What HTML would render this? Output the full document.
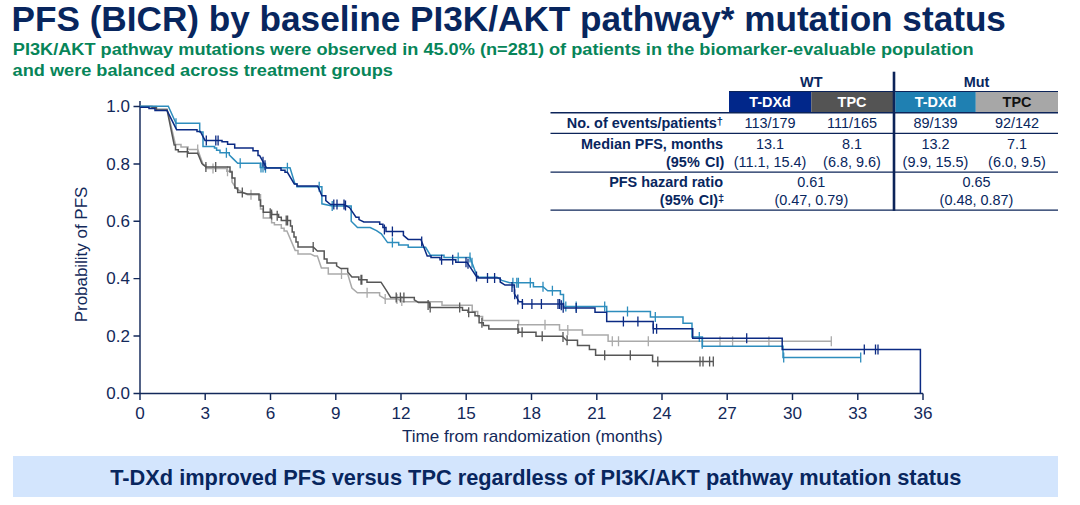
<!DOCTYPE html>
<html><head><meta charset="utf-8">
<style>
html,body{margin:0;padding:0;background:#fff;}
body{width:1080px;height:505px;overflow:hidden;position:relative;font-family:"Liberation Sans",sans-serif;}
svg{position:absolute;left:0;top:0;}
</style></head>
<body>
<svg width="1080" height="505" viewBox="0 0 1080 505" font-family="Liberation Sans, sans-serif">

<text transform="translate(11.5,31.2) scale(0.988,1)" font-size="35.6" fill="#08265e" font-weight="bold">PFS (BICR) by baseline PI3K/AKT pathway* mutation status</text>
<text transform="translate(12.8,54.7) scale(1.069,1)" font-size="17" fill="#078559" font-weight="bold">PI3K/AKT pathway mutations were observed in 45.0% (n=281) of patients in the biomarker-evaluable population</text>
<text transform="translate(12.6,76.3) scale(1.069,1)" font-size="17" fill="#078559" font-weight="bold">and were balanced across treatment groups</text>
<rect x="729" y="91.3" width="82.3" height="21.5" fill="#01278a"/>
<rect x="811.3" y="91.3" width="82" height="21.5" fill="#545454"/>
<rect x="895.3" y="91.3" width="80.5" height="21.5" fill="#1f80b2"/>
<rect x="975.8" y="91.3" width="82.2" height="21.5" fill="#a7a7a7"/>
<line x1="729" y1="91.5" x2="1058" y2="91.5" stroke="#0c2459" stroke-width="1"/>
<line x1="550.5" y1="112.8" x2="1058" y2="112.8" stroke="#0c2459" stroke-width="1.6"/>
<line x1="550.5" y1="133.3" x2="1058" y2="133.3" stroke="#0c2459" stroke-width="1.3"/>
<line x1="550.5" y1="172.2" x2="1058" y2="172.2" stroke="#0c2459" stroke-width="1.3"/>
<line x1="550.5" y1="210.2" x2="1058" y2="210.2" stroke="#0c2459" stroke-width="1.3"/>
<line x1="894" y1="71.7" x2="894" y2="210.8" stroke="#0c2459" stroke-width="2.6"/>

<text transform="translate(811.3,86.7) scale(1.01,1)" font-size="14.3" fill="#08265e" font-weight="bold" text-anchor="middle">WT</text>
<text transform="translate(976.5,86.7) scale(1.01,1)" font-size="14.3" fill="#08265e" font-weight="bold" text-anchor="middle">Mut</text>
<text transform="translate(770,106.7) scale(1.01,1)" font-size="14.3" fill="#fff" font-weight="bold" text-anchor="middle">T-DXd</text>
<text transform="translate(852,106.7) scale(1.01,1)" font-size="14.3" fill="#fff" font-weight="bold" text-anchor="middle">TPC</text>
<text transform="translate(935.5,106.7) scale(1.01,1)" font-size="14.3" fill="#fff" font-weight="bold" text-anchor="middle">T-DXd</text>
<text transform="translate(1017,106.7) scale(1.01,1)" font-size="14.3" fill="#111" font-weight="bold" text-anchor="middle">TPC</text>
<text transform="translate(723,128) scale(1.01,1)" font-size="14.3" fill="#08265e" font-weight="bold" text-anchor="end">No. of events/patients<tspan font-size="11" dy="-3">†</tspan></text>
<text transform="translate(723,148.7) scale(1.01,1)" font-size="14.3" fill="#08265e" font-weight="bold" text-anchor="end">Median PFS, months</text>
<text transform="translate(724.3,166.5) scale(1.01,1)" font-size="14.3" fill="#08265e" font-weight="bold" text-anchor="end">(95%<tspan dx="1.3"> CI)</tspan></text>
<text transform="translate(723,187) scale(1.01,1)" font-size="14.3" fill="#08265e" font-weight="bold" text-anchor="end">PFS hazard ratio</text>
<text transform="translate(724.3,204.9) scale(1.01,1)" font-size="14.3" fill="#08265e" font-weight="bold" text-anchor="end">(95%<tspan dx="1.3"> CI)</tspan><tspan font-size="11" dy="-3">‡</tspan></text>
<text transform="translate(770,128) scale(1.01,1)" font-size="14.3" fill="#08265e" text-anchor="middle">113/179</text>
<text transform="translate(852,128) scale(1.01,1)" font-size="14.3" fill="#08265e" text-anchor="middle">111/165</text>
<text transform="translate(935.5,128) scale(1.01,1)" font-size="14.3" fill="#08265e" text-anchor="middle">89/139</text>
<text transform="translate(1017,128) scale(1.01,1)" font-size="14.3" fill="#08265e" text-anchor="middle">92/142</text>
<text transform="translate(770,148.7) scale(1.01,1)" font-size="14.3" fill="#08265e" text-anchor="middle">13.1</text>
<text transform="translate(852,148.7) scale(1.01,1)" font-size="14.3" fill="#08265e" text-anchor="middle">8.1</text>
<text transform="translate(935.5,148.7) scale(1.01,1)" font-size="14.3" fill="#08265e" text-anchor="middle">13.2</text>
<text transform="translate(1017,148.7) scale(1.01,1)" font-size="14.3" fill="#08265e" text-anchor="middle">7.1</text>
<text transform="translate(770,166.5) scale(1.01,1)" font-size="14.3" fill="#08265e" text-anchor="middle">(11.1, 15.4)</text>
<text transform="translate(852,166.5) scale(1.01,1)" font-size="14.3" fill="#08265e" text-anchor="middle">(6.8, 9.6)</text>
<text transform="translate(935.5,166.5) scale(1.01,1)" font-size="14.3" fill="#08265e" text-anchor="middle">(9.9, 15.5)</text>
<text transform="translate(1017,166.5) scale(1.01,1)" font-size="14.3" fill="#08265e" text-anchor="middle">(6.0, 9.5)</text>
<text transform="translate(811.3,187) scale(1.01,1)" font-size="14.3" fill="#08265e" text-anchor="middle">0.61</text>
<text transform="translate(976.5,187) scale(1.01,1)" font-size="14.3" fill="#08265e" text-anchor="middle">0.65</text>
<text transform="translate(811.3,204.9) scale(1.01,1)" font-size="14.3" fill="#08265e" text-anchor="middle">(0.47, 0.79)</text>
<text transform="translate(976.5,204.9) scale(1.01,1)" font-size="14.3" fill="#08265e" text-anchor="middle">(0.48, 0.87)</text>
<path d="M140,101 V394.2 M139.2,393.4 H923 M140.0,393.4 V399.9 M205.2,393.4 V399.9 M270.5,393.4 V399.9 M335.8,393.4 V399.9 M401.0,393.4 V399.9 M466.2,393.4 V399.9 M531.5,393.4 V399.9 M596.8,393.4 V399.9 M662.0,393.4 V399.9 M727.2,393.4 V399.9 M792.5,393.4 V399.9 M857.8,393.4 V399.9 M923.0,393.4 V399.9 M133.5,393.4 H140 M133.5,336.0 H140 M133.5,278.6 H140 M133.5,221.3 H140 M133.5,163.9 H140 M133.5,106.5 H140" stroke="#13295a" stroke-width="1.45" fill="none"/>
<text transform="translate(130,399.0) scale(1.0,1)" font-size="17" fill="#13295a" text-anchor="end">0.0</text>
<text transform="translate(130,341.6) scale(1.0,1)" font-size="17" fill="#13295a" text-anchor="end">0.2</text>
<text transform="translate(130,284.2) scale(1.0,1)" font-size="17" fill="#13295a" text-anchor="end">0.4</text>
<text transform="translate(130,226.9) scale(1.0,1)" font-size="17" fill="#13295a" text-anchor="end">0.6</text>
<text transform="translate(130,169.5) scale(1.0,1)" font-size="17" fill="#13295a" text-anchor="end">0.8</text>
<text transform="translate(130,112.1) scale(1.0,1)" font-size="17" fill="#13295a" text-anchor="end">1.0</text>
<text transform="translate(140.0,418.5) scale(1.07,1)" font-size="16" fill="#13295a" text-anchor="middle">0</text>
<text transform="translate(205.2,418.5) scale(1.07,1)" font-size="16" fill="#13295a" text-anchor="middle">3</text>
<text transform="translate(270.5,418.5) scale(1.07,1)" font-size="16" fill="#13295a" text-anchor="middle">6</text>
<text transform="translate(335.8,418.5) scale(1.07,1)" font-size="16" fill="#13295a" text-anchor="middle">9</text>
<text transform="translate(401.0,418.5) scale(1.07,1)" font-size="16" fill="#13295a" text-anchor="middle">12</text>
<text transform="translate(466.2,418.5) scale(1.07,1)" font-size="16" fill="#13295a" text-anchor="middle">15</text>
<text transform="translate(531.5,418.5) scale(1.07,1)" font-size="16" fill="#13295a" text-anchor="middle">18</text>
<text transform="translate(596.8,418.5) scale(1.07,1)" font-size="16" fill="#13295a" text-anchor="middle">21</text>
<text transform="translate(662.0,418.5) scale(1.07,1)" font-size="16" fill="#13295a" text-anchor="middle">24</text>
<text transform="translate(727.2,418.5) scale(1.07,1)" font-size="16" fill="#13295a" text-anchor="middle">27</text>
<text transform="translate(792.5,418.5) scale(1.07,1)" font-size="16" fill="#13295a" text-anchor="middle">30</text>
<text transform="translate(857.8,418.5) scale(1.07,1)" font-size="16" fill="#13295a" text-anchor="middle">33</text>
<text transform="translate(923.0,418.5) scale(1.07,1)" font-size="16" fill="#13295a" text-anchor="middle">36</text>
<text transform="translate(532.3,442.4) scale(1.07,1)" font-size="16" fill="#13295a" text-anchor="middle">Time from randomization (months)</text>
<text transform="translate(87.4,254.5) rotate(-90) scale(1.06,1)" font-size="16" fill="#13295a" text-anchor="middle">Probability of PFS</text>
<path d="M140.0,106.5 L156.4,106.5 L156.4,106.5 L156.4,108.9 L167.1,108.9 L175.4,144.5 L180.7,144.5 L181.0,144.5 L181.0,147.0 L188.0,147.0 L188.0,147.0 L188.0,149.4 L197.7,149.4 L203.3,165.0 L206.0,165.0 L206.0,168.4 L224.0,168.4 L226.8,168.4 L226.8,171.2 L228.2,171.2 L232.0,171.2 L232.0,182.0 L236.5,189.0 L242.0,192.0 L247.6,194.7 L257.3,194.7 L260.5,194.7 L260.5,208.9 L263.3,208.9 L263.3,217.9 L270.2,217.9 L271.6,217.9 L271.6,222.7 L274.4,222.7 L274.4,224.8 L278.6,224.8 L281.3,224.8 L281.3,228.3 L284.1,228.3 L284.1,231.0 L286.9,231.0 L295.2,250.4 L298.0,250.4 L298.0,253.9 L310.4,253.9 L314.6,256.0 L317.4,256.0 L321.4,267.9 L325.5,267.9 L328.3,267.9 L328.3,274.1 L347.7,274.1 L351.9,288.0 L357.4,292.8 L376.8,292.8 L379.6,292.8 L379.6,295.6 L385.2,299.0 L397.6,299.0 L403.2,301.8 L439.2,301.8 L442.0,301.8 L442.0,305.3 L469.4,305.3 L472.2,305.3 L472.2,311.6 L475.0,311.6 L477.7,311.6 L477.7,316.5 L481.9,316.5 L482.6,316.5 L482.6,320.6 L517.9,320.6 L518.6,320.6 L518.6,324.8 L558.1,324.8 L559.5,324.8 L559.5,329.9 L581.7,329.9 L582.4,329.9 L582.4,335.0 L607.4,335.0 L608.1,335.0 L608.1,341.2 L831.3,341.2" stroke="#aaaaaa" stroke-width="1.5" fill="none" stroke-linejoin="miter"/>
<path d="M197.7,144.4 V154.4 M213.0,163.4 V173.4 M227.5,166.2 V176.2 M251.0,189.7 V199.7 M341.5,269.1 V279.1 M367.1,287.8 V297.8 M385.2,294.0 V304.0 M397.0,294.0 V304.0 M401.8,296.1 V306.1 M545.0,319.8 V329.8 M567.8,324.9 V334.9 M612.3,336.2 V346.2 M618.5,336.2 V346.2 M648.3,336.2 V346.2 M720.0,336.2 V346.2 M732.6,336.2 V346.2 M768.9,336.2 V346.2 M831.3,336.2 V346.2" stroke="#aaaaaa" stroke-width="1.3" fill="none"/>
<path d="M140.0,106.5 L152.0,106.5 L152.0,106.5 L152.0,107.7 L156.4,107.7 L156.4,107.7 L156.4,110.0 L167.1,110.0 L174.2,145.0 L175.5,145.0 L175.5,149.7 L178.3,149.7 L178.3,151.8 L186.6,151.8 L188.0,151.8 L188.0,153.2 L197.7,153.2 L201.9,163.6 L206.0,167.0 L228.2,167.0 L230.0,167.0 L230.0,172.0 L232.1,172.0 L232.1,178.0 L234.9,178.0 L234.9,188.0 L237.7,188.0 L237.7,192.5 L242.0,192.5 L247.6,194.0 L257.3,194.0 L259.0,194.0 L259.0,200.0 L260.5,200.0 L260.5,206.0 L263.3,206.0 L263.3,212.3 L268.9,212.3 L271.6,212.3 L271.6,214.4 L275.8,214.4 L278.6,214.4 L278.6,217.2 L281.3,217.2 L281.3,220.6 L288.3,220.6 L290.5,220.6 L290.5,226.0 L292.2,226.0 L292.2,232.0 L294.0,232.0 L294.0,237.0 L296.0,237.0 L296.0,242.0 L298.0,242.0 L298.0,247.0 L313.2,247.0 L317.4,251.1 L321.4,251.1 L324.2,251.1 L324.2,258.9 L327.0,258.9 L327.0,263.0 L333.9,263.0 L336.6,263.0 L336.6,265.8 L340.8,268.6 L345.0,268.6 L347.7,268.6 L347.7,272.0 L351.9,276.9 L356.0,276.9 L358.8,276.9 L358.8,279.7 L365.7,279.7 L367.0,279.7 L367.0,282.2 L381.0,282.2 L386.5,290.7 L390.7,297.4 L411.5,297.4 L414.3,297.4 L414.3,299.8 L418.4,302.5 L426.7,302.5 L429.5,302.5 L429.5,307.4 L459.7,307.4 L462.5,307.4 L462.5,310.2 L468.0,310.2 L468.0,310.2 L468.0,312.3 L472.2,312.3 L475.0,312.3 L475.0,315.8 L477.7,315.8 L479.1,315.8 L479.1,322.7 L481.9,322.7 L483.3,322.7 L483.3,325.5 L487.4,325.5 L488.8,325.5 L488.8,329.0 L517.9,329.0 L518.6,329.0 L518.6,332.2 L534.6,332.2 L536.0,332.2 L536.0,336.3 L562.3,336.3 L566.4,340.3 L576.1,340.3 L577.5,340.3 L577.5,345.5 L588.6,345.5 L589.4,345.5 L589.4,349.6 L594.3,349.6 L595.6,349.6 L595.6,355.2 L651.8,355.2 L652.6,355.2 L652.6,361.5 L713.3,361.5" stroke="#565656" stroke-width="1.5" fill="none" stroke-linejoin="miter"/>
<path d="M187.3,147.5 V157.5 M242.3,187.6 V197.6 M205.9,161.9 V171.9 M215.7,162.0 V172.0 M270.2,208.3 V218.3 M271.6,209.4 V219.4 M277.2,210.8 V220.8 M286.2,215.6 V225.6 M287.6,215.6 V225.6 M313.2,242.0 V252.0 M361.0,274.7 V284.7 M361.8,274.7 V284.7 M396.2,292.4 V302.4 M400.4,292.4 V302.4 M403.9,292.4 V302.4 M428.1,300.0 V310.0 M430.2,302.4 V312.4 M459.7,302.4 V312.4 M468.7,307.3 V317.3 M481.9,317.7 V327.7 M517.9,324.0 V334.0 M522.1,327.2 V337.2 M542.2,331.3 V341.3 M563.0,332.0 V342.0 M567.1,335.3 V345.3 M604.7,350.2 V360.2 M630.3,350.2 V360.2 M657.8,356.5 V366.5 M700.0,356.5 V366.5 M703.0,356.5 V366.5 M709.6,356.5 V366.5 M713.3,356.5 V366.5" stroke="#565656" stroke-width="1.3" fill="none"/>
<path d="M140.0,106.2 L168.3,106.2 L176.0,123.2 L197.4,123.2 L199.7,123.2 L199.7,132.0 L203.0,132.0 L203.0,146.4 L212.7,146.4 L214.5,146.4 L214.5,148.0 L216.6,148.0 L216.6,150.2 L220.0,150.2 L220.0,152.8 L226.6,152.8 L229.3,152.8 L229.3,155.0 L233.5,159.1 L237.7,163.3 L258.3,163.3 L260.3,163.3 L260.3,167.4 L262.4,167.4 L266.6,167.8 L290.0,167.8 L295.0,184.0 L297.0,184.0 L297.0,186.8 L319.2,186.8 L321.9,186.8 L321.9,203.8 L332.2,206.0 L349.2,206.0 L351.2,206.0 L351.2,221.2 L357.5,227.5 L370.2,227.5 L376.5,230.7 L381.3,233.8 L387.6,242.6 L395.5,242.6 L398.7,242.6 L398.7,244.9 L406.6,244.9 L408.2,244.9 L408.2,247.3 L425.6,247.3 L430.4,255.2 L444.0,255.2 L444.0,255.2 L444.0,257.4 L470.0,257.4 L477.2,276.4 L478.0,276.4 L478.0,277.2 L497.0,277.2 L501.8,280.4 L509.7,282.8 L530.3,282.8 L533.4,282.8 L533.4,286.7 L543.0,286.7 L547.7,290.7 L557.2,290.7 L560.4,290.7 L560.4,294.6 L563.5,294.6 L563.5,306.5 L605.3,306.5 L606.7,306.5 L606.7,311.5 L649.0,311.5 L650.4,311.5 L650.4,317.0 L682.3,317.0 L683.0,317.0 L683.0,323.3 L688.5,323.3 L692.0,323.3 L692.0,337.1 L701.7,337.1 L702.4,337.1 L702.4,346.3 L781.5,346.3 L783.0,346.3 L783.0,357.6 L860.7,357.6" stroke="#2d8dbd" stroke-width="1.5" fill="none" stroke-linejoin="miter"/>
<path d="M470.0,252.4 V262.4 M472.0,257.7 V267.7 M565.8,301.5 V311.5 M576.2,301.5 V311.5 M176.0,118.2 V128.2 M226.4,147.8 V157.8 M240.2,158.3 V168.3 M261.0,162.4 V172.4 M263.0,162.5 V172.5 M265.5,162.7 V172.7 M287.4,162.8 V172.8 M319.2,181.8 V191.8 M332.2,201.0 V211.0 M392.4,237.6 V247.6 M458.2,252.4 V262.4 M512.9,277.8 V287.8 M516.8,277.8 V287.8 M518.4,277.8 V287.8 M530.3,277.8 V287.8 M543.0,281.7 V291.7 M552.4,285.7 V295.7 M604.7,301.5 V311.5 M627.5,306.5 V316.5 M655.3,312.0 V322.0 M699.3,332.1 V342.1 M702.2,338.7 V348.7 M783.7,352.6 V362.6 M860.7,352.6 V362.6" stroke="#2d8dbd" stroke-width="1.3" fill="none"/>
<path d="M140.0,107.2 L149.0,107.2 L149.0,107.2 L149.0,108.5 L155.0,108.5 L155.0,108.5 L155.0,110.5 L167.0,110.5 L176.6,129.7 L196.8,129.7 L197.0,129.7 L197.0,131.5 L200.3,131.5 L205.0,140.4 L220.5,140.4 L222.0,140.4 L222.0,141.8 L227.6,141.8 L227.6,141.8 L227.6,144.2 L232.4,144.2 L234.7,144.2 L234.7,148.0 L251.3,148.0 L253.0,148.0 L253.0,150.8 L255.5,150.8 L258.0,150.8 L258.0,155.6 L259.6,155.6 L266.6,168.1 L279.0,168.1 L281.0,168.1 L281.0,170.2 L283.2,170.2 L285.0,170.2 L285.0,172.3 L287.4,172.3 L294.3,184.0 L297.0,184.0 L297.0,186.1 L317.8,186.1 L321.9,195.8 L325.8,195.8 L325.8,200.6 L330.6,204.5 L344.0,204.5 L349.6,207.7 L356.0,217.2 L359.0,217.2 L359.0,219.6 L363.8,222.0 L376.5,222.0 L379.7,222.0 L379.7,224.3 L382.9,224.3 L382.9,227.5 L386.0,227.5 L386.0,231.5 L400.3,231.5 L403.4,231.5 L403.4,235.4 L408.2,239.4 L420.9,239.4 L427.2,256.0 L431.0,256.0 L431.0,257.6 L440.0,257.6 L440.0,257.6 L440.0,259.8 L454.3,259.8 L455.8,259.8 L455.8,262.2 L466.9,262.2 L476.4,276.4 L478.0,276.4 L478.0,278.0 L497.0,278.0 L500.2,278.0 L500.2,282.0 L505.0,285.1 L511.3,285.1 L514.4,285.1 L514.4,293.8 L519.2,301.8 L522.4,301.8 L522.4,304.1 L560.4,304.1 L563.5,304.1 L563.5,308.1 L594.3,308.1 L595.0,308.1 L595.0,312.2 L605.3,312.2 L606.7,312.2 L606.7,321.6 L650.4,321.6 L653.2,321.6 L653.2,328.8 L689.2,328.8 L692.7,328.8 L692.7,338.2 L781.5,338.2 L782.2,338.2 L782.2,349.5 L920.4,349.5 L920.4,349.5 L920.4,393.4" stroke="#0b2a83" stroke-width="1.5" fill="none" stroke-linejoin="miter"/>
<path d="M466.0,257.2 V267.2 M468.0,258.8 V268.8 M476.5,271.5 V281.5 M512.0,282.1 V292.1 M514.7,289.3 V299.3 M517.8,294.5 V304.5 M561.3,300.3 V310.3 M563.2,302.7 V312.7 M206.3,135.4 V145.4 M215.8,135.4 V145.4 M218.1,135.4 V145.4 M263.0,156.7 V166.7 M265.0,160.2 V170.2 M333.8,199.5 V209.5 M337.0,199.5 V209.5 M344.0,199.5 V209.5 M345.5,200.4 V210.4 M384.4,224.4 V234.4 M392.4,226.5 V236.5 M421.7,236.5 V246.5 M441.6,254.8 V264.8 M452.7,254.8 V264.8 M487.5,273.0 V283.0 M494.6,273.0 V283.0 M522.4,299.1 V309.1 M531.9,299.1 V309.1 M541.4,299.1 V309.1 M558.0,299.1 V309.1 M559.6,299.1 V309.1 M576.2,303.1 V313.1 M623.4,316.6 V326.6 M637.9,316.6 V326.6 M656.6,323.8 V333.8 M653.3,323.8 V333.8 M746.7,333.2 V343.2 M864.3,344.5 V354.5 M875.5,344.5 V354.5 M878.0,344.5 V354.5" stroke="#0b2a83" stroke-width="1.3" fill="none"/>
<rect x="13" y="456" width="1045" height="41" fill="#d3e5fd"/>
<text transform="translate(535.8,484.7) scale(0.991,1)" font-size="22" fill="#08265e" font-weight="bold" text-anchor="middle">T-DXd improved PFS versus TPC regardless of PI3K/AKT pathway mutation status</text>
</svg>
</body></html>
